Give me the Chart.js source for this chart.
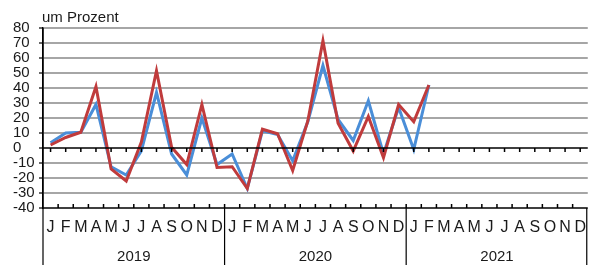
<!DOCTYPE html>
<html>
<head>
<meta charset="utf-8">
<script src="https://cdn.jsdelivr.net/npm/chart.js@4/dist/chart.umd.min.js"></script>
<style>
  html, body { margin: 0; padding: 0; background: #fff; }
  #wrap { width: 596px; height: 265px; }
</style>
</head>
<body>
<div id="wrap"><canvas id="chart" width="596" height="265"></canvas></div>
<script>
// ── Daten ──
const years  = ['2019', '2020', '2021'];
const months = ['J', 'F', 'M', 'A', 'M', 'J', 'J', 'A', 'S', 'O', 'N', 'D'];
const yTicks = [-40, -30, -20, -10, 0, 10, 20, 30, 40, 50, 60, 70, 80];

// Jan 2019 – Feb 2021
const blueSeries = [
    3.5, 10, 10.5, 29, -12.5, -18, -2, 37, -4, -18, 20, -11,
    -4, -27, 11.5, 9, -8.5, 17.5, 55, 19, 5, 31.5, -4, 27,
    -1, 42
];
const redSeries = [
    2, 7, 10.5, 41, -14, -22, 4, 51.5, 0.5, -11, 29, -13,
    -12.5, -27, 12.5, 9.5, -15, 18, 71.5, 16.5, -2, 21, -6.5, 29,
    17.5, 42
];

const labels = [];
years.forEach(y => months.forEach(m => labels.push(m)));

const BLACK = '#000';
const GRID  = '#a6a6a6';
const FONT  = 'Liberation Sans, Arial, sans-serif';

// ── Achsen, Jahresgruppen, Beschriftung ──
const framePlugin = {
    id: 'frame',
    afterDraw(chart) {
        const { ctx, chartArea: ca, scales } = chart;
        const x = scales.x, y = scales.y;
        const step = x.getPixelForValue(1) - x.getPixelForValue(0);
        const y0 = y.getPixelForValue(0);
        const yb = y.getPixelForValue(-40);

        ctx.save();
        ctx.strokeStyle = BLACK;
        ctx.lineWidth = 1.5;

        // Nulllinie mit Strichen in Kategoriemitte
        ctx.beginPath();
        ctx.moveTo(ca.left, y0);
        ctx.lineTo(ca.right, y0);
        labels.forEach((_, i) => {
            const px = x.getPixelForValue(i);
            ctx.moveTo(px, y0);
            ctx.lineTo(px, y0 + 4);
        });
        ctx.stroke();

        // untere Linie mit Strichen an den Kategoriegrenzen
        ctx.beginPath();
        ctx.moveTo(ca.left, yb);
        ctx.lineTo(ca.right, yb);
        for (let i = 1; i < labels.length; i++) {
            const px = x.getPixelForValue(i) - step / 2;
            ctx.moveTo(px, yb);
            ctx.lineTo(px, yb - 4);
        }
        ctx.stroke();

        // Jahrestrenner und Jahreszahlen
        ctx.lineWidth = 1.2;
        ctx.beginPath();
        for (let k = 0; k <= years.length; k++) {
            let px = x.getPixelForValue(k * 12) - step / 2;
            if (k === years.length) px = Math.min(px, ca.right - 1);
            ctx.moveTo(px, k === 0 ? ca.top : yb);
            ctx.lineTo(px, chart.height);
        }
        ctx.stroke();

        ctx.fillStyle = '#1a1a1a';
        ctx.font = '15px ' + FONT;
        ctx.textAlign = 'center';
        ctx.textBaseline = 'middle';
        years.forEach((yr, k) => {
            const px = (x.getPixelForValue(k * 12) + x.getPixelForValue(k * 12 + 11)) / 2;
            ctx.fillText(yr, px, 257);
        });

        // Einheit
        ctx.textAlign = 'left';
        ctx.textBaseline = 'alphabetic';
        ctx.fillText('um Prozent', 42, 22);
        ctx.restore();
    }
};

new Chart(document.getElementById('chart'), {
    type: 'line',
    data: {
        labels,
        datasets: [
            {
                data: redSeries,
                borderColor: '#c03b3c',
                borderWidth: 3,
                pointRadius: 0,
                tension: 0,
                fill: false
            },
            {
                data: blueSeries,
                borderColor: '#4a8ed8',
                borderWidth: 3,
                pointRadius: 0,
                tension: 0,
                fill: false
            }
        ]
    },
    options: {
        responsive: false,
        animation: false,
        events: [],
        layout: { padding: { top: 28, left: 13, right: 2, bottom: 0 } },
        plugins: {
            legend: { display: false },
            tooltip: { enabled: false }
        },
        scales: {
            x: {
                offset: true,
                grid: { display: false, drawTicks: false },
                border: { display: false },
                ticks: {
                    autoSkip: false,
                    maxRotation: 0,
                    padding: 10,
                    color: '#1a1a1a',
                    font: { family: FONT, size: 16 }
                },
                afterFit(scale) { scale.height = 57; }
            },
            y: {
                min: -40,
                max: 80,
                afterBuildTicks(scale) {
                    scale.ticks = yTicks.map(v => ({ value: v }));
                },
                grid: {
                    color: c => (c.tick && (c.tick.value === 0 || c.tick.value === -40)) ? 'rgba(0,0,0,0)' : GRID,
                    lineWidth: 2,
                    tickColor: BLACK,
                    tickLength: 4,
                    tickWidth: 1.2
                },
                border: { display: true, color: BLACK, width: 1.5 },
                ticks: {
                    autoSkip: false,
                    crossAlign: 'far',
                    padding: 2,
                    color: '#1a1a1a',
                    font: { family: FONT, size: 15, lineHeight: 1 }
                },
                afterFit(scale) { scale.width = 30; }
            }
        }
    },
    plugins: [framePlugin]
});
</script>
</body>
</html>
